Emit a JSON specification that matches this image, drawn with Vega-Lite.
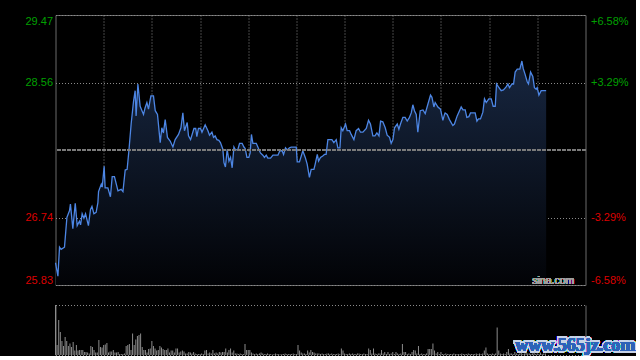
{
  "$schema": "https://vega.github.io/schema/vega-lite/v6.json",
  "background": "#000000",
  "padding": {"left": 0.5, "top": 14, "right": 0, "bottom": 0},
  "autosize": {"type": "pad"},
  "spacing": 20,
  "bounds": "flush",
  "config": {
    "view": {"stroke": null},
    "axis": {"title": null, "ticks": false, "domain": false, "labelFont": "Liberation Sans", "labelFontSize": 11, "gridColor": "#8a8a8a", "gridDash": [1, 2], "gridOpacity": 1, "labelOverlap": false}
  },
  "datasets": {
    "price": [{"m":0,"p":26.13},{"m":1.5,"p":25.95},{"m":2.5,"p":26.34},{"m":3.5,"p":26.31},{"m":5.6,"p":26.34},{"m":7.1,"p":26.74},{"m":8.7,"p":26.83},{"m":9.3,"p":26.92},{"m":10.8,"p":26.59},{"m":12.3,"p":26.93},{"m":13.5,"p":26.63},{"m":14.9,"p":26.69},{"m":15.6,"p":26.64},{"m":16.6,"p":26.79},{"m":17.7,"p":26.73},{"m":18.7,"p":26.79},{"m":20.5,"p":26.63},{"m":21.8,"p":26.85},{"m":22.7,"p":26.89},{"m":23.9,"p":26.79},{"m":25.3,"p":26.81},{"m":26.4,"p":26.94},{"m":26.8,"p":27.09},{"m":28.5,"p":27.19},{"m":29.1,"p":27.15},{"m":30.3,"p":27.43},{"m":30.9,"p":27.14},{"m":32.6,"p":27.14},{"m":34.2,"p":27.02},{"m":35.3,"p":27.29},{"m":36.7,"p":27.29},{"m":38.9,"p":27.10},{"m":40.9,"p":27.12},{"m":42.0,"p":27.09},{"m":43.4,"p":27.38},{"m":44.6,"p":27.39},{"m":45.7,"p":27.64},{"m":47.1,"p":28.00},{"m":48.6,"p":28.31},{"m":49.6,"p":28.45},{"m":50.2,"p":28.11},{"m":51.3,"p":28.54},{"m":52.7,"p":28.24},{"m":54.8,"p":28.13},{"m":55.8,"p":28.22},{"m":56.9,"p":28.29},{"m":57.9,"p":28.20},{"m":59.4,"p":28.38},{"m":61.0,"p":28.38},{"m":62.1,"p":28.18},{"m":63.5,"p":28.13},{"m":65.2,"p":27.75},{"m":66.2,"p":27.95},{"m":67.2,"p":27.88},{"m":68.3,"p":28.06},{"m":69.7,"p":27.82},{"m":71.4,"p":27.77},{"m":73.1,"p":27.69},{"m":74.5,"p":27.79},{"m":76.6,"p":27.86},{"m":78.1,"p":27.95},{"m":79.3,"p":28.15},{"m":80.3,"p":27.91},{"m":82.0,"p":28.02},{"m":82.8,"p":27.84},{"m":84.1,"p":27.79},{"m":86.2,"p":27.94},{"m":87.3,"p":27.94},{"m":88.0,"p":27.83},{"m":89.0,"p":27.94},{"m":90.3,"p":27.94},{"m":91.2,"p":27.89},{"m":93.2,"p":27.99},{"m":94.9,"p":27.91},{"m":95.9,"p":27.85},{"m":97.4,"p":27.89},{"m":98.4,"p":27.82},{"m":99.4,"p":27.84},{"m":100.5,"p":27.79},{"m":101.7,"p":27.78},{"m":102.7,"p":27.75},{"m":104.2,"p":27.66},{"m":104.9,"p":27.48},{"m":105.8,"p":27.42},{"m":106.9,"p":27.66},{"m":108.0,"p":27.50},{"m":109.0,"p":27.55},{"m":110.0,"p":27.41},{"m":111.1,"p":27.69},{"m":112.1,"p":27.65},{"m":113.6,"p":27.66},{"m":114.6,"p":27.74},{"m":116.2,"p":27.74},{"m":117.3,"p":27.69},{"m":118.1,"p":27.67},{"m":119.2,"p":27.55},{"m":120.4,"p":27.55},{"m":121.2,"p":27.61},{"m":122.0,"p":27.86},{"m":122.9,"p":27.74},{"m":125.0,"p":27.74},{"m":126.4,"p":27.67},{"m":127.6,"p":27.61},{"m":129.1,"p":27.58},{"m":130.1,"p":27.55},{"m":131.2,"p":27.58},{"m":132.2,"p":27.54},{"m":133.9,"p":27.54},{"m":135.4,"p":27.58},{"m":138.5,"p":27.58},{"m":139.7,"p":27.64},{"m":141.1,"p":27.64},{"m":142.0,"p":27.59},{"m":143.2,"p":27.68},{"m":144.3,"p":27.65},{"m":145.7,"p":27.68},{"m":146.8,"p":27.69},{"m":149.9,"p":27.69},{"m":150.5,"p":27.49},{"m":151.9,"p":27.49},{"m":154.0,"p":27.64},{"m":155.5,"p":27.55},{"m":156.7,"p":27.46},{"m":158.1,"p":27.28},{"m":159.2,"p":27.39},{"m":160.9,"p":27.39},{"m":161.7,"p":27.46},{"m":163.0,"p":27.59},{"m":163.8,"p":27.50},{"m":165.0,"p":27.55},{"m":166.4,"p":27.57},{"m":167.5,"p":27.59},{"m":168.5,"p":27.59},{"m":169.6,"p":27.79},{"m":172.1,"p":27.79},{"m":173.3,"p":27.75},{"m":174.8,"p":27.79},{"m":175.8,"p":27.68},{"m":177.1,"p":27.68},{"m":177.9,"p":27.95},{"m":178.9,"p":27.91},{"m":180.6,"p":28.00},{"m":181.6,"p":27.91},{"m":183.1,"p":27.91},{"m":184.1,"p":27.86},{"m":185.8,"p":27.79},{"m":187.2,"p":27.91},{"m":188.7,"p":27.94},{"m":189.9,"p":27.89},{"m":191.4,"p":27.89},{"m":193.5,"p":27.94},{"m":194.9,"p":28.05},{"m":196.1,"p":28.00},{"m":197.6,"p":27.84},{"m":198.9,"p":27.84},{"m":200.1,"p":27.88},{"m":201.4,"p":27.84},{"m":202.4,"p":28.04},{"m":203.8,"p":28.03},{"m":205.3,"p":27.95},{"m":206.5,"p":27.85},{"m":208.0,"p":27.82},{"m":209.0,"p":27.74},{"m":210.1,"p":27.79},{"m":211.1,"p":27.95},{"m":212.8,"p":28.00},{"m":213.8,"p":27.93},{"m":214.8,"p":28.00},{"m":216.3,"p":28.09},{"m":217.7,"p":28.09},{"m":219.0,"p":28.04},{"m":220.4,"p":28.09},{"m":221.5,"p":28.15},{"m":222.5,"p":28.26},{"m":223.5,"p":28.18},{"m":224.6,"p":28.13},{"m":225.6,"p":27.89},{"m":227.1,"p":28.18},{"m":228.8,"p":28.19},{"m":230.2,"p":28.14},{"m":231.9,"p":28.27},{"m":233.5,"p":28.39},{"m":234.4,"p":28.36},{"m":235.6,"p":28.23},{"m":236.4,"p":28.29},{"m":238.1,"p":28.23},{"m":239.7,"p":28.20},{"m":241.2,"p":28.05},{"m":242.2,"p":28.13},{"m":242.6,"p":28.15},{"m":243.9,"p":28.13},{"m":245.3,"p":28.06},{"m":247.4,"p":27.98},{"m":248.4,"p":28.00},{"m":250.1,"p":28.11},{"m":252.6,"p":28.23},{"m":253.7,"p":28.19},{"m":255.1,"p":28.19},{"m":256.1,"p":28.09},{"m":257.4,"p":28.10},{"m":258.4,"p":28.15},{"m":261.3,"p":28.15},{"m":262.4,"p":28.04},{"m":263.4,"p":28.07},{"m":264.6,"p":28.07},{"m":266.1,"p":28.16},{"m":267.1,"p":28.34},{"m":268.2,"p":28.29},{"m":269.8,"p":28.34},{"m":271.3,"p":28.34},{"m":272.5,"p":28.24},{"m":273.8,"p":28.24},{"m":274.6,"p":28.54},{"m":275.8,"p":28.50},{"m":277.5,"p":28.45},{"m":278.9,"p":28.46},{"m":280.6,"p":28.50},{"m":281.7,"p":28.54},{"m":282.7,"p":28.49},{"m":284.2,"p":28.54},{"m":285.2,"p":28.54},{"m":286.2,"p":28.70},{"m":287.5,"p":28.74},{"m":289.1,"p":28.74},{"m":290.4,"p":28.85},{"m":291.2,"p":28.75},{"m":292.4,"p":28.67},{"m":293.7,"p":28.57},{"m":294.5,"p":28.54},{"m":295.8,"p":28.70},{"m":297.2,"p":28.64},{"m":298.2,"p":28.49},{"m":299.3,"p":28.47},{"m":299.9,"p":28.49},{"m":301.0,"p":28.39},{"m":302.4,"p":28.45},{"m":305.5,"p":28.45}],
    "vol": [{"m":0,"v":100},{"m":1,"v":20},{"m":2,"v":70},{"m":3,"v":46},{"m":4,"v":28},{"m":5,"v":18},{"m":6,"v":36},{"m":7,"v":28},{"m":8,"v":18},{"m":9,"v":23},{"m":10,"v":16},{"m":11,"v":26},{"m":12,"v":9},{"m":13,"v":20},{"m":14,"v":9},{"m":15,"v":10},{"m":16,"v":10},{"m":17,"v":10},{"m":18,"v":6},{"m":19,"v":6},{"m":20,"v":5},{"m":21,"v":3},{"m":22,"v":18},{"m":23,"v":16},{"m":24,"v":10},{"m":25,"v":5},{"m":26,"v":5},{"m":27,"v":30},{"m":28,"v":16},{"m":29,"v":15},{"m":30,"v":20},{"m":31,"v":21},{"m":32,"v":24},{"m":33,"v":5},{"m":34,"v":7},{"m":35,"v":7},{"m":36,"v":10},{"m":37,"v":5},{"m":38,"v":5},{"m":39,"v":6},{"m":40,"v":2},{"m":41,"v":2},{"m":42,"v":2},{"m":43,"v":3},{"m":44,"v":18},{"m":45,"v":20},{"m":46,"v":22},{"m":47,"v":10},{"m":48,"v":43},{"m":49,"v":20},{"m":50,"v":31},{"m":51,"v":38},{"m":52,"v":40},{"m":53,"v":43},{"m":54,"v":16},{"m":55,"v":10},{"m":56,"v":10},{"m":57,"v":5},{"m":58,"v":12},{"m":59,"v":13},{"m":60,"v":28},{"m":61,"v":18},{"m":62,"v":13},{"m":63,"v":9},{"m":64,"v":10},{"m":65,"v":18},{"m":66,"v":15},{"m":67,"v":12},{"m":68,"v":10},{"m":69,"v":10},{"m":70,"v":13},{"m":71,"v":5},{"m":72,"v":9},{"m":73,"v":9},{"m":74,"v":5},{"m":75,"v":13},{"m":76,"v":13},{"m":77,"v":5},{"m":78,"v":7},{"m":79,"v":9},{"m":80,"v":7},{"m":81,"v":3},{"m":82,"v":3},{"m":83,"v":6},{"m":84,"v":5},{"m":85,"v":3},{"m":86,"v":6},{"m":87,"v":3},{"m":88,"v":2},{"m":89,"v":2},{"m":90,"v":2},{"m":91,"v":3},{"m":92,"v":2},{"m":93,"v":9},{"m":94,"v":10},{"m":95,"v":3},{"m":96,"v":5},{"m":97,"v":3},{"m":98,"v":10},{"m":99,"v":3},{"m":100,"v":5},{"m":101,"v":3},{"m":102,"v":6},{"m":103,"v":5},{"m":104,"v":6},{"m":105,"v":6},{"m":106,"v":13},{"m":107,"v":5},{"m":108,"v":10},{"m":109,"v":13},{"m":110,"v":5},{"m":111,"v":9},{"m":112,"v":3},{"m":113,"v":3},{"m":114,"v":2},{"m":115,"v":3},{"m":116,"v":2},{"m":117,"v":2},{"m":118,"v":22},{"m":119,"v":10},{"m":120,"v":10},{"m":121,"v":10},{"m":122,"v":5},{"m":123,"v":3},{"m":124,"v":2},{"m":125,"v":3},{"m":126,"v":2},{"m":127,"v":3},{"m":128,"v":5},{"m":129,"v":3},{"m":130,"v":2},{"m":131,"v":2},{"m":132,"v":3},{"m":133,"v":2},{"m":134,"v":2},{"m":135,"v":1},{"m":136,"v":2},{"m":137,"v":3},{"m":138,"v":2},{"m":139,"v":2},{"m":140,"v":1},{"m":141,"v":2},{"m":142,"v":2},{"m":143,"v":3},{"m":144,"v":2},{"m":145,"v":2},{"m":146,"v":2},{"m":147,"v":2},{"m":148,"v":3},{"m":149,"v":2},{"m":150,"v":2},{"m":151,"v":20},{"m":152,"v":9},{"m":153,"v":5},{"m":154,"v":3},{"m":155,"v":3},{"m":156,"v":2},{"m":157,"v":9},{"m":158,"v":5},{"m":159,"v":10},{"m":160,"v":6},{"m":161,"v":5},{"m":162,"v":3},{"m":163,"v":3},{"m":164,"v":3},{"m":165,"v":2},{"m":166,"v":3},{"m":167,"v":2},{"m":168,"v":2},{"m":169,"v":3},{"m":170,"v":3},{"m":171,"v":2},{"m":172,"v":3},{"m":173,"v":2},{"m":174,"v":2},{"m":175,"v":2},{"m":176,"v":3},{"m":177,"v":2},{"m":178,"v":13},{"m":179,"v":9},{"m":180,"v":3},{"m":181,"v":2},{"m":182,"v":2},{"m":183,"v":3},{"m":184,"v":2},{"m":185,"v":3},{"m":186,"v":2},{"m":187,"v":2},{"m":188,"v":3},{"m":189,"v":3},{"m":190,"v":2},{"m":191,"v":2},{"m":192,"v":3},{"m":193,"v":2},{"m":194,"v":2},{"m":195,"v":13},{"m":196,"v":10},{"m":197,"v":3},{"m":198,"v":13},{"m":199,"v":3},{"m":200,"v":2},{"m":201,"v":3},{"m":202,"v":3},{"m":203,"v":10},{"m":204,"v":3},{"m":205,"v":6},{"m":206,"v":2},{"m":207,"v":6},{"m":208,"v":2},{"m":209,"v":3},{"m":210,"v":6},{"m":211,"v":2},{"m":212,"v":6},{"m":213,"v":3},{"m":214,"v":2},{"m":215,"v":3},{"m":216,"v":22},{"m":217,"v":6},{"m":218,"v":6},{"m":219,"v":2},{"m":220,"v":3},{"m":221,"v":2},{"m":222,"v":6},{"m":223,"v":10},{"m":224,"v":9},{"m":225,"v":3},{"m":226,"v":18},{"m":227,"v":2},{"m":228,"v":3},{"m":229,"v":2},{"m":230,"v":2},{"m":231,"v":3},{"m":232,"v":12},{"m":233,"v":12},{"m":234,"v":12},{"m":235,"v":23},{"m":236,"v":9},{"m":237,"v":3},{"m":238,"v":6},{"m":239,"v":2},{"m":240,"v":6},{"m":241,"v":2},{"m":242,"v":2},{"m":243,"v":3},{"m":244,"v":2},{"m":245,"v":2},{"m":246,"v":2},{"m":247,"v":2},{"m":248,"v":3},{"m":249,"v":2},{"m":250,"v":2},{"m":251,"v":2},{"m":252,"v":2},{"m":253,"v":3},{"m":254,"v":2},{"m":255,"v":2},{"m":256,"v":2},{"m":257,"v":3},{"m":258,"v":2},{"m":259,"v":2},{"m":260,"v":2},{"m":261,"v":2},{"m":262,"v":3},{"m":263,"v":2},{"m":264,"v":3},{"m":265,"v":2},{"m":266,"v":3},{"m":267,"v":9},{"m":268,"v":15},{"m":269,"v":3},{"m":270,"v":2},{"m":271,"v":2},{"m":272,"v":3},{"m":273,"v":2},{"m":274,"v":3},{"m":275,"v":55},{"m":276,"v":9},{"m":277,"v":3},{"m":278,"v":2},{"m":279,"v":3},{"m":280,"v":2},{"m":281,"v":6},{"m":282,"v":12},{"m":283,"v":3},{"m":284,"v":3},{"m":285,"v":2},{"m":286,"v":6},{"m":287,"v":3},{"m":288,"v":2},{"m":289,"v":3},{"m":290,"v":6},{"m":291,"v":2},{"m":292,"v":3},{"m":293,"v":16},{"m":294,"v":3},{"m":295,"v":3},{"m":296,"v":2},{"m":297,"v":3},{"m":298,"v":5},{"m":299,"v":2},{"m":300,"v":3},{"m":301,"v":2},{"m":302,"v":5},{"m":303,"v":2},{"m":304,"v":3},{"m":305,"v":3}]
  },
  "vconcat": [
    {
      "width": 530,
      "height": 270,
      "view": {"stroke": "#6a6a6a", "strokeWidth": 1},
      "data": {"name": "price"},
      "layer": [
        {
          "mark": {"type": "area", "clip": true, "fill": {"x1": 0, "y1": 0, "x2": 0, "y2": 1, "gradient": "linear", "stops": [{"offset": 0, "color": "#172640"}, {"offset": 1, "color": "#020306"}]}, "fillOpacity": 1},
          "encoding": {
            "x": {"field": "m", "type": "quantitative", "scale": {"domain": [0, 330], "nice": false, "zero": false},
                  "axis": {"labels": false, "grid": true, "values": [30, 60, 90, 120, 150, 180, 210, 240, 270, 300]}},
            "y": {"field": "p", "type": "quantitative", "scale": {"domain": [25.83, 29.47], "nice": false, "zero": false},
                  "axis": {"orient": "left", "values": [25.83, 26.74, 28.56, 29.47], "format": ".2f", "labelFlush": true, "labelPadding": 3, "minExtent": 54, "grid": true,
                           "labelColor": {"condition": {"test": "datum.value > 27.65", "value": "#00a000"}, "value": "#dd0000"}}},
            "y2": {"datum": 25.83}
          }
        },
        {
          "mark": {"type": "line", "color": "#4d86e4", "strokeWidth": 1.3},
          "encoding": {
            "x": {"field": "m", "type": "quantitative"},
            "y": {"field": "p", "type": "quantitative", "scale": {"domain": [25.83, 29.47], "nice": false, "zero": false},
                  "axis": {"orient": "right", "values": [25.83, 26.74, 28.56, 29.47], "labelFlush": true, "labelPadding": 5, "grid": false,
                           "labelExpr": "datum.value > 29 ? '+6.58%' : datum.value > 28 ? '+3.29%' : datum.value > 26.5 ? '-3.29%' : '-6.58%'",
                           "labelColor": {"condition": {"test": "datum.value > 27.65", "value": "#00a000"}, "value": "#dd0000"}}}
          }
        },
        {
          "mark": {"type": "rule", "color": "#7c7c7c", "strokeDash": [3, 2], "strokeWidth": 1},
          "encoding": {"y": {"datum": 27.65, "type": "quantitative", "axis": null}}
        },
        {
          "mark": {"type": "text", "text": "sina.com", "align": "right", "baseline": "alphabetic", "font": "Liberation Sans", "fontSize": 10.5, "color": "#a0a0a0"},
          "encoding": {"x": {"datum": 323, "type": "quantitative"}, "y": {"datum": 25.85, "type": "quantitative", "axis": null}}
        }
      ],
      "resolve": {"scale": {"y": "shared"}, "axis": {"y": "independent"}}
    },
    {
      "width": 530,
      "height": 50,
      "view": {"stroke": null},
      "data": {"name": "vol"},
      "layer": [
        {
          "mark": {"type": "rule", "color": "#8c8c8c", "strokeWidth": 1},
          "encoding": {
            "x": {"field": "m", "type": "quantitative", "scale": {"domain": [0, 330], "nice": false, "zero": false},
                  "axis": {"labels": false, "grid": true, "values": [0, 330], "gridDash": [], "gridColor": "#6a6a6a"}},
            "y": {"field": "v", "type": "quantitative", "scale": {"domain": [0, 100], "nice": false},
                  "axis": {"labels": false, "grid": true, "values": [0, 50, 100], "minExtent": 54}},
            "y2": {"datum": 0}
          }
        },
        {
          "mark": {"type": "text", "text": "www.565jz.com", "align": "right", "baseline": "alphabetic", "font": "Liberation Serif", "fontSize": 18, "fontWeight": "bold", "color": "#c8d4e8", "stroke": "#c8d4e8", "strokeWidth": 3},
          "encoding": {"x": {"datum": 361, "type": "quantitative"}, "y": {"datum": 9, "type": "quantitative"}}
        },
        {
          "mark": {"type": "text", "text": "www.565jz.com", "align": "right", "baseline": "alphabetic", "font": "Liberation Serif", "fontSize": 18, "fontWeight": "bold", "color": "#2e62b8"},
          "encoding": {"x": {"datum": 361, "type": "quantitative"}, "y": {"datum": 9, "type": "quantitative"}}
        }
      ]
    }
  ]
}
